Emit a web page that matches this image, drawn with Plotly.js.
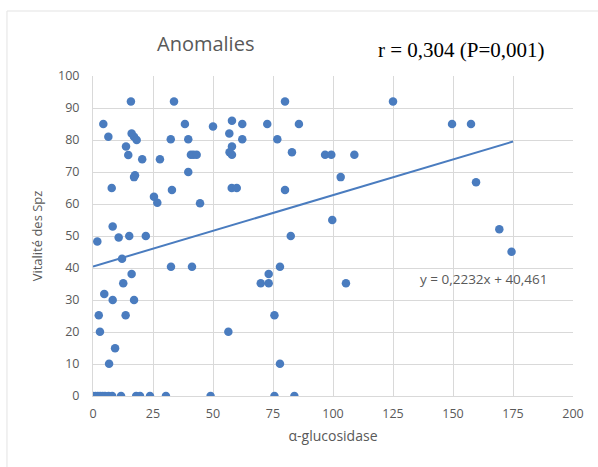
<!DOCTYPE html>
<html>
<head>
<meta charset="utf-8">
<script src="https://cdn.plot.ly/plotly-3.0.1.min.js"></script>
<style>html,body{margin:0;padding:0;background:#fff;}#chart{width:598px;height:467px;}</style>
</head>
<body>
<div id="chart"></div>
<script>
// α-glucosidase values
const xValues = [
  15.8, 33.75, 80, 125,
  4.3, 38.3, 62.2, 72.6, 85.8, 149.6, 157.5, 57.9,
  6.4, 16.1, 17.1, 18.2, 32.4, 39.7, 62.2, 76.8, 50, 56.8,
  13.75, 57.9,
  14.7, 40.8, 41.9, 43.2, 56.9, 57.9, 82.9, 96.7, 99.3, 108.9,
  20.5, 27.9,
  39.7, 17.5, 17.1, 103.2, 159.6,
  7.8, 57.8, 59.9, 32.9, 80,
  25.4, 26.8, 44.6,
  99.7, 8.2, 169.3,
  10.7, 15.1, 22, 82.4, 1.8,
  174.4, 12.1,
  32.5, 41.25, 77.9,
  16.1, 73.2,
  12.6, 69.9, 73.2, 105.4,
  4.7, 8.2, 17.1,
  2.4, 13.6, 75.6,
  2.9, 56.4,
  9.2,
  6.7, 77.9,
  0, 1, 2, 3, 4, 5, 6.5, 8, 11.7, 18, 19.6, 23.75, 30.4, 49, 75.6, 83.9
];
// Vitalité des Spz values
const yValues = [
  92, 92, 92, 92,
  85, 85, 85, 85, 85, 85, 85, 86,
  81, 82, 81, 80, 80.2, 80.2, 80.2, 80.2, 84.2, 82,
  78, 78,
  75.3, 75.4, 75.4, 75.4, 76.2, 75.4, 76.2, 75.4, 75.4, 75.4,
  74, 74,
  70, 69, 68.4, 68.4, 66.8,
  65, 65, 65, 64.4, 64.4,
  62.3, 60.4, 60.2,
  55, 53, 52.1,
  49.5, 50, 50, 50, 48.3,
  45.1, 42.9,
  40.4, 40.4, 40.4,
  38.1, 38.1,
  35.2, 35.2, 35.2, 35.2,
  31.9, 30, 30,
  25.2, 25.2, 25.2,
  20.1, 20.1,
  14.9,
  10.1, 10.1,
  0, 0, 0, 0, 0, 0, 0, 0, 0, 0, 0, 0, 0, 0, 0, 0
];
// Linear trend: y = 0,2232x + 40,461
const slope = 0.2232;
const intercept = 40.461;
const trendX = [0, 175];
const trendY = trendX.map(v => slope * v + intercept);

const xTicks = [0, 25, 50, 75, 100, 125, 150, 175, 200];
const yTicks = [0, 10, 20, 30, 40, 50, 60, 70, 80, 90, 100];

const blue = '#4a7cbf';
const gray = '#595959';
const font = '"Open Sans", "Liberation Sans", sans-serif';

const data = [
  {type: 'scatter', mode: 'lines', x: trendX, y: trendY,
   line: {color: blue, width: 2}, hoverinfo: 'skip'},
  {type: 'scatter', mode: 'markers', x: xValues, y: yValues,
   marker: {color: blue, size: 8.5}}
];

const layout = {
  width: 598, height: 467,
  margin: {l: 93, r: 25, t: 76, b: 71},
  paper_bgcolor: '#fff', plot_bgcolor: '#fff',
  showlegend: false,
  font: {family: font, color: gray, size: 12},
  xaxis: {
    range: [0, 200], tickvals: xTicks, ticktext: xTicks.map(String),
    showgrid: true, gridcolor: '#d9d9d9', gridwidth: 1,
    zeroline: false, showline: true, linecolor: '#d9d9d9',
    ticks: '', ticklabelstandoff: 6,
    tickfont: {family: font, size: 12.5, color: gray},
    title: {text: 'α-glucosidase', font: {family: font, size: 14, color: gray}, standoff: 10}
  },
  yaxis: {
    range: [0, 100], tickvals: yTicks, ticktext: yTicks.map(String),
    showgrid: true, gridcolor: '#d9d9d9', gridwidth: 1,
    zeroline: false, showline: true, linecolor: '#d9d9d9',
    ticks: '', ticklabelstandoff: 10,
    tickfont: {family: font, size: 12.5, color: gray},
    title: {text: 'Vitalité des Spz', font: {family: font, size: 13, color: gray}, standoff: 12}
  },
  shapes: [
    {type: 'rect', xref: 'paper', yref: 'paper', x0: -0.1792, x1: 1.0667, y0: -0.247, y1: 1.2031,
     line: {color: '#e3e3e3', width: 1}, fillcolor: 'rgba(0,0,0,0)', layer: 'below'}
  ],
  annotations: [
    {text: 'Anomalies', xref: 'paper', yref: 'paper', x: 0.235, y: 1.1,
     xanchor: 'center', yanchor: 'middle', showarrow: false,
     font: {family: font, size: 20, color: gray}},
    {text: 'r = 0,304 (P=0,001)', xref: 'paper', yref: 'paper', x: 0.767, y: 1.08,
     xanchor: 'center', yanchor: 'middle', showarrow: false,
     font: {family: '"Liberation Serif", "DejaVu Serif", serif', size: 21, color: '#000'}},
    {text: 'y = 0,2232x + 40,461', xref: 'x', yref: 'y', x: 162.5, y: 36.6,
     xanchor: 'center', yanchor: 'middle', showarrow: false,
     font: {family: font, size: 13.5, color: gray}}
  ]
};

Plotly.newPlot('chart', data, layout, {displayModeBar: false, staticPlot: true});
</script>
</body>
</html>
